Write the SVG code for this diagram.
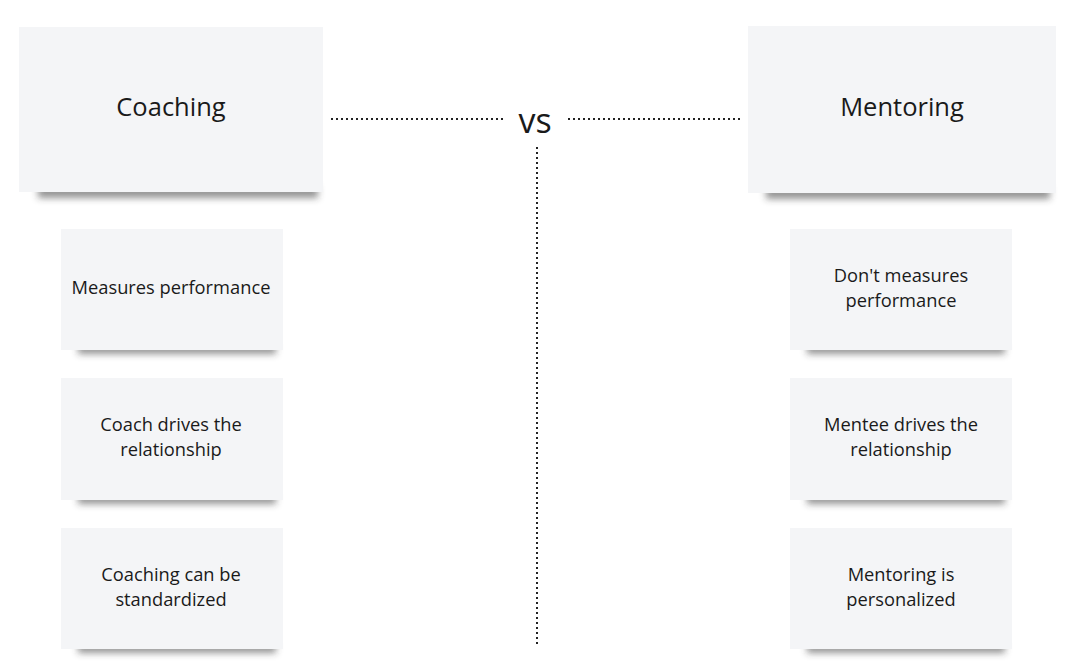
<svg xmlns="http://www.w3.org/2000/svg" width="1080" height="672" viewBox="0 0 1080 672">
<defs>
<filter id="blur" x="-20%" y="-150%" width="140%" height="400%"><feGaussianBlur stdDeviation="3.5"/></filter>
<style>
.card{fill:#f4f5f7}
.shadow{fill:#2a2a2a;opacity:0.5;filter:url(#blur)}
.title{font-family:"Open Sans","Noto Sans",sans-serif;font-size:25.5px;fill:#1a1a1a;text-anchor:middle}
.txt{font-family:"Open Sans","Noto Sans",sans-serif;font-size:18.3px;fill:#1a1a1a;text-anchor:middle}
.dot{stroke:#222;stroke-width:2;stroke-dasharray:2 3;fill:none}
</style>
</defs>
<rect width="1080" height="672" fill="#ffffff"/>
<g id="connectors">
<line class="dot" x1="331" y1="119" x2="505" y2="119"/>
<line class="dot" x1="568" y1="119" x2="743" y2="119"/>
<line class="dot" x1="537" y1="147" x2="537" y2="645"/>
</g>
<g id="vs"><text x="535" y="133" font-family="Open Sans, Noto Sans, sans-serif" font-size="34" fill="#1a1a1a" text-anchor="middle">vs</text></g>
<g id="coaching">
<rect class="shadow" x="38" y="186" width="280" height="12"/>
<rect class="card" x="19" y="27" width="304" height="165"/>
<text class="title" x="171" y="116">Coaching</text>
</g>
<g id="mentoring">
<rect class="shadow" x="766" y="187" width="284" height="12"/>
<rect class="card" x="748" y="26" width="308" height="167"/>
<text class="title" x="902" y="116">Mentoring</text>
</g>
<g id="c1">
<rect class="shadow" x="78" y="344" width="198" height="10"/>
<rect class="card" x="61" y="229" width="222" height="121"/>
<text class="txt" x="171" y="294">Measures performance</text>
</g>
<g id="c2">
<rect class="shadow" x="78" y="494" width="198" height="10"/>
<rect class="card" x="61" y="378" width="222" height="122"/>
<text class="txt" x="171" y="431">Coach drives the</text>
<text class="txt" x="171" y="456">relationship</text>
</g>
<g id="c3">
<rect class="shadow" x="78" y="643" width="198" height="10"/>
<rect class="card" x="61" y="528" width="222" height="121"/>
<text class="txt" x="171" y="581">Coaching can be</text>
<text class="txt" x="171" y="606">standardized</text>
</g>
<g id="m1">
<rect class="shadow" x="807" y="344" width="198" height="10"/>
<rect class="card" x="790" y="229" width="222" height="121"/>
<text class="txt" x="901" y="282">Don't measures</text>
<text class="txt" x="901" y="307">performance</text>
</g>
<g id="m2">
<rect class="shadow" x="807" y="494" width="198" height="10"/>
<rect class="card" x="790" y="378" width="222" height="122"/>
<text class="txt" x="901" y="431">Mentee drives the</text>
<text class="txt" x="901" y="456">relationship</text>
</g>
<g id="m3">
<rect class="shadow" x="807" y="643" width="198" height="10"/>
<rect class="card" x="790" y="528" width="222" height="121"/>
<text class="txt" x="901" y="581">Mentoring is</text>
<text class="txt" x="901" y="606">personalized</text>
</g>
</svg>
